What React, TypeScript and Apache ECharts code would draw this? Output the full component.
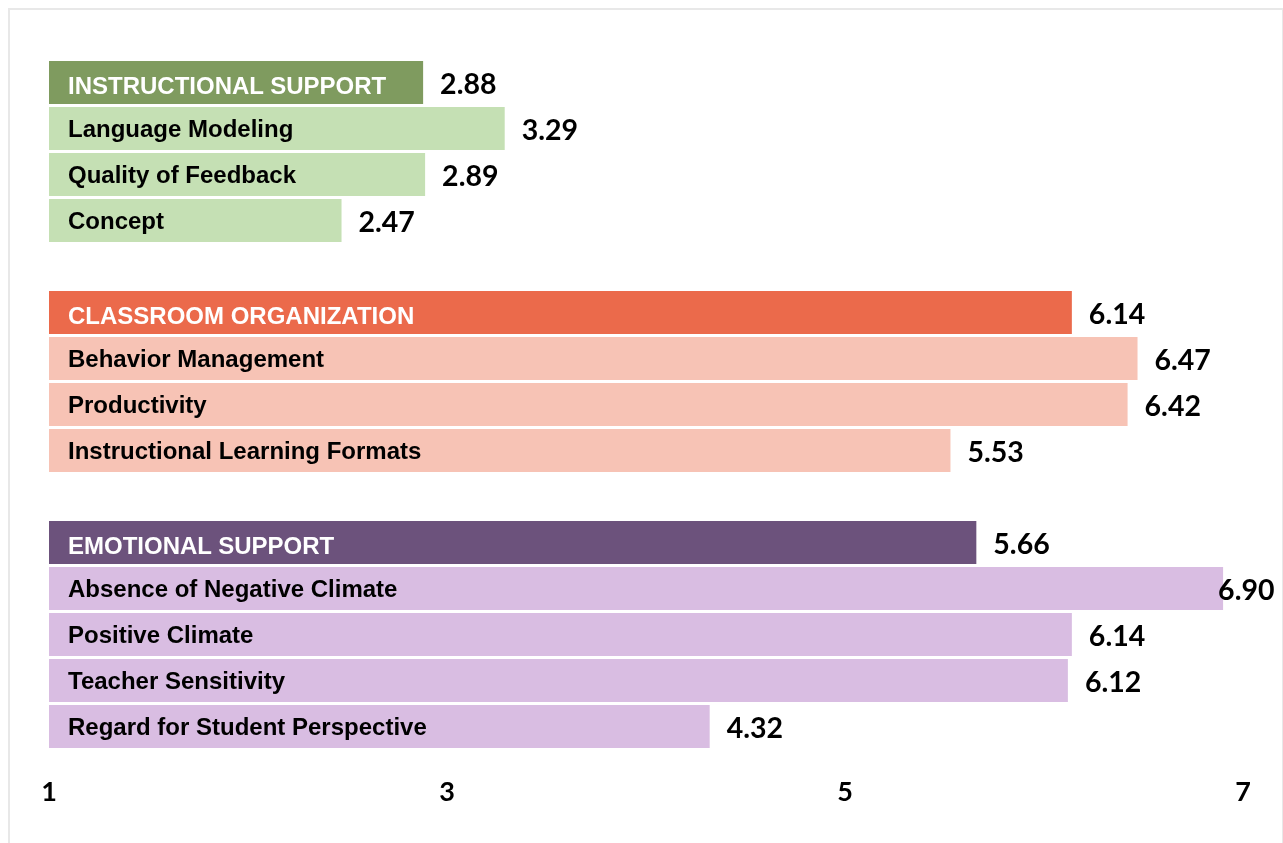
import React, { useEffect, useRef } from "react";
import * as echarts from "echarts";

const instructionalLabels = ["INSTRUCTIONAL SUPPORT", "Language Modeling", "Quality of Feedback", "Concept"];
const instructionalValues = [2.88, 3.29, 2.89, 2.47];
const classroomLabels = ["CLASSROOM ORGANIZATION", "Behavior Management", "Productivity", "Instructional Learning Formats"];
const classroomValues = [6.14, 6.47, 6.42, 5.53];
const emotionalLabels = ["EMOTIONAL SUPPORT", "Absence of Negative Climate", "Positive Climate", "Teacher Sensitivity", "Regard for Student Perspective"];
const emotionalValues = [5.66, 6.9, 6.14, 6.12, 4.32];
const xTicks = [1, 3, 5, 7];

const headerColors = ["#7F9B5F", "#EB6A4B", "#6C527C"];
const itemColors = ["#C5E0B4", "#F7C3B5", "#D9BDE2"];

export default function App() {
  const ref = useRef<HTMLDivElement>(null);
  useEffect(() => {
    if (!ref.current) return;
    const chart = echarts.init(ref.current, undefined, { renderer: "svg" });
    const groups = [
      { labels: instructionalLabels, values: instructionalValues },
      { labels: classroomLabels, values: classroomValues },
      { labels: emotionalLabels, values: emotionalValues },
    ];
    const cats: string[] = [];
    const headers: boolean[] = [];
    const data: any[] = [];
    groups.forEach((g, gi) => {
      if (gi > 0) {
        cats.push(" ".repeat(gi));
        headers.push(false);
        data.push("-");
      }
      g.labels.forEach((l, i) => {
        cats.push(l);
        headers.push(i === 0);
        const v = g.values[i];
        const item: any = {
          value: v,
          itemStyle: { color: i === 0 ? headerColors[gi] : itemColors[gi] },
        };
        // keep labels of bars near the axis end inside the frame
        if (v > 6.8) item.label = { distance: -5 };
        data.push(item);
      });
    });
    chart.setOption({
      animation: false,
      grid: { left: 49, right: 40, top: 59.5, bottom: 93.5, containLabel: false },
      xAxis: {
        type: "value",
        min: xTicks[0],
        max: xTicks[xTicks.length - 1],
        interval: 2,
        axisLine: { show: false },
        axisTick: { show: false },
        splitLine: { show: false },
        axisLabel: {
          fontFamily: "Lato",
          fontWeight: "bold",
          fontSize: 27,
          color: "#000",
          margin: 27,
        },
      },
      yAxis: {
        type: "category",
        inverse: true,
        data: cats,
        axisLine: { show: false },
        axisTick: { show: false },
        splitLine: { show: false },
        z: 10,
        axisLabel: {
          inside: true,
          margin: 19,
          interval: 0,
          formatter: (v: string, i: number) => (headers[i] ? `{h|${v}}` : `{n|${v}}`),
          rich: {
            h: { fontFamily: "Liberation Sans", fontWeight: "bold", fontSize: 24, color: "#fff", padding: [5, 0, 0, 0] },
            n: { fontFamily: "Liberation Sans", fontWeight: "bold", fontSize: 24, color: "#000" },
          },
        },
      },
      series: [
        {
          type: "bar",
          data,
          barCategoryGap: "6.5%",
          label: {
            show: true,
            position: "right",
            distance: 17,
            fontFamily: "Lato",
            fontWeight: "bold",
            fontSize: 28.5,
            color: "#000",
            formatter: (p: any) => Number(p.value).toFixed(2),
          },
        },
      ],
    });
    return () => chart.dispose();
  }, []);
  return (
    <>
      <div
        style={{
          position: "fixed",
          left: 8,
          top: 8,
          width: 1276,
          height: 850,
          border: "2px solid #e8e8e8",
          boxSizing: "border-box",
        }}
      />
      <div ref={ref} style={{ position: "fixed", left: 0, top: 0, width: 1283, height: 843 }} />
    </>
  );
}
